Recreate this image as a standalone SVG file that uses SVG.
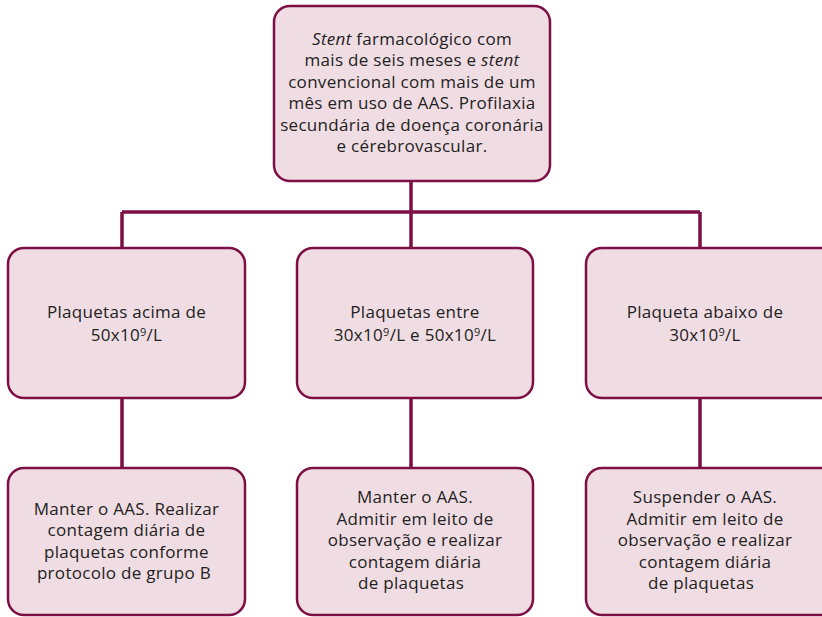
<svg xmlns="http://www.w3.org/2000/svg" width="822" height="617" viewBox="0 0 822 617">
<style>
.box{fill:#f0dde3;stroke:#7d0f45;stroke-width:2.5}
.t{font-family:"Open Sans","Noto Sans","Liberation Sans",sans-serif;font-size:17px;fill:#222;text-anchor:middle;letter-spacing:0.3px}
.c{stroke:#7d0f45;stroke-width:3.5;fill:none}
.sup{font-size:11px}
</style>
<rect width="822" height="617" fill="#fff"/>
<g id="connectors">
<path class="c" d="M411 182V212M122 212H700M122 212V248M411 212V248M700 212V248"/>
<path class="c" d="M122 398V468M411 398V468M700 398V468"/>
</g>
<g id="top">
<rect class="box" x="274" y="6" width="276" height="175" rx="16"/>
<text class="t" x="412" y="45"><tspan font-style="italic">Stent</tspan> farmacológico com</text>
<text class="t" x="412" y="66">mais de seis meses e <tspan font-style="italic">stent</tspan></text>
<text class="t" x="412" y="87.5">convencional com mais de um</text>
<text class="t" x="412" y="109">mês em uso de AAS. Profilaxia</text>
<text class="t" x="412" y="130.5">secundária de doença coronária</text>
<text class="t" x="412" y="152">e cérebrovascular.</text>
</g>
<g id="mid1">
<rect class="box" x="8" y="248" width="237" height="150" rx="16"/>
<text class="t" x="126.5" y="318">Plaquetas acima de</text>
<text class="t" x="126.5" y="341">50x10<tspan class="sup" dy="-5">9</tspan><tspan dy="5">/L</tspan></text>
</g>
<g id="mid2">
<rect class="box" x="297" y="248" width="236" height="150" rx="16"/>
<text class="t" x="415" y="318">Plaquetas entre</text>
<text class="t" x="415" y="341">30x10<tspan class="sup" dy="-5">9</tspan><tspan dy="5">/L e 50x10</tspan><tspan class="sup" dy="-5">9</tspan><tspan dy="5">/L</tspan></text>
</g>
<g id="mid3">
<rect class="box" x="586" y="248" width="250" height="150" rx="16"/>
<text class="t" x="705" y="318">Plaqueta abaixo de</text>
<text class="t" x="705" y="341">30x10<tspan class="sup" dy="-5">9</tspan><tspan dy="5">/L</tspan></text>
</g>
<g id="bot1">
<rect class="box" x="8" y="468" width="237" height="147" rx="16"/>
<text class="t" x="126.5" y="514.5">Manter o AAS. Realizar</text>
<text class="t" x="126.5" y="536">contagem diária de</text>
<text class="t" x="126.5" y="557.5">plaquetas conforme</text>
<text class="t" x="124" y="579">protocolo de grupo B</text>
</g>
<g id="bot2">
<rect class="box" x="297" y="468" width="236" height="147" rx="16"/>
<text class="t" x="415" y="503">Manter o AAS.</text>
<text class="t" x="415" y="524.5">Admitir em leito de</text>
<text class="t" x="415" y="546">observação e realizar</text>
<text class="t" x="415" y="567.5">contagem diária</text>
<text class="t" x="411" y="589">de plaquetas</text>
</g>
<g id="bot3">
<rect class="box" x="586" y="468" width="250" height="147" rx="16"/>
<text class="t" x="705" y="503">Suspender o AAS.</text>
<text class="t" x="705" y="524.5">Admitir em leito de</text>
<text class="t" x="705" y="546">observação e realizar</text>
<text class="t" x="705" y="567.5">contagem diária</text>
<text class="t" x="701" y="589">de plaquetas</text>
</g>
</svg>
